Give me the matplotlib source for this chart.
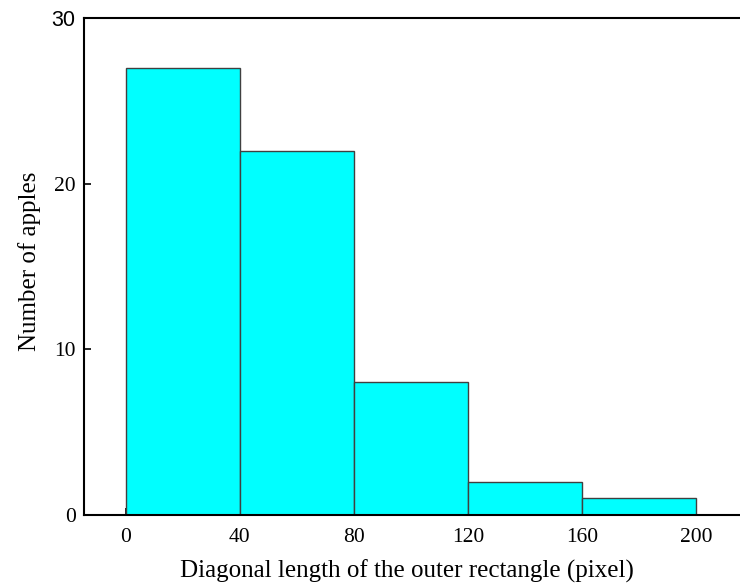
import matplotlib
matplotlib.use("Agg")
import matplotlib.pyplot as plt

bin_edges = [0, 40, 80, 120, 160, 200]
counts = [27, 22, 8, 2, 1]
x_ticks = [0, 40, 80, 120, 160, 200]
y_ticks = [0, 10, 20, 30]

plt.rcParams["font.family"] = ["Liberation Serif", "DejaVu Serif"]

W, H = 740, 586
fig = plt.figure(figsize=(W / 100, H / 100), dpi=100)
extra = 0.01
ax = fig.add_axes([84 / W, 71 / H, 1 - 84 / W + extra, 497 / H])

widths = [b - a for a, b in zip(bin_edges[:-1], bin_edges[1:])]
ax.bar(bin_edges[:-1], counts, width=widths, align="edge",
       color="#00FFFF", edgecolor="#404040", linewidth=1.0, zorder=2)

ax.set_xlim(-14.7, 215.5 + extra * W * 40 / 114)
ax.set_ylim(0, 30)
ax.set_xticks(x_ticks)
ax.set_yticks(y_ticks)
ax.tick_params(direction="in", length=5, width=1.2, labelsize=15.5)
ax.tick_params(axis="x", pad=9)
ax.tick_params(axis="y", pad=6)
for s in ax.spines.values():
    s.set_linewidth(1.5)
ax.spines["right"].set_visible(False)

# top label of the count axis is set in a sans face
ax.get_yticklabels()[-1].set_fontfamily(["Liberation Sans", "DejaVu Sans"])

ax.set_xlabel("Diagonal length of the outer rectangle (pixel)", fontsize=18)
ax.set_ylabel("Number of apples", fontsize=18)
ax.xaxis.label.set_verticalalignment("top")
ax.xaxis.set_label_coords(407 / W, 1 - 560 / H, transform=fig.transFigure)
ax.yaxis.set_label_coords(41 / W, 1 - 261 / H, transform=fig.transFigure)

fig.savefig("out.png", dpi=100)
